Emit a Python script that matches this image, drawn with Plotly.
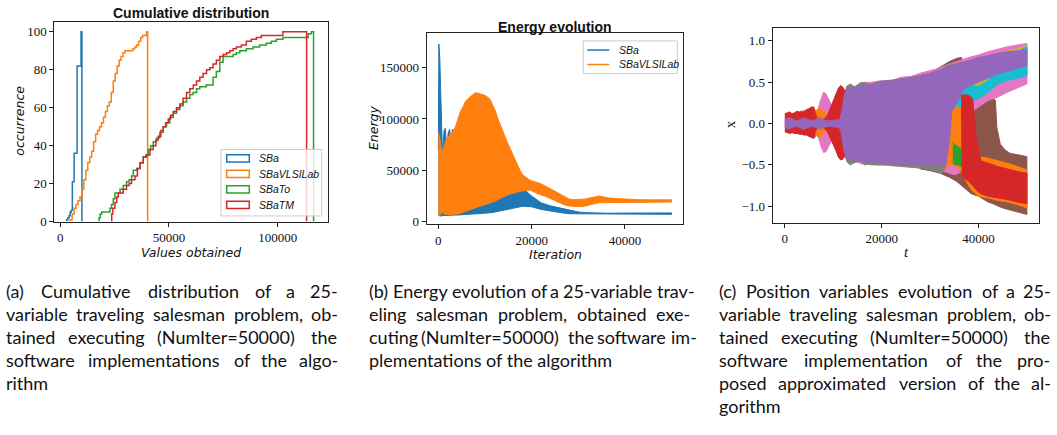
import plotly.graph_objects as go

W, H = 1057, 435

C_BLUE, C_ORANGE, C_GREEN, C_RED = "#1f77b4", "#ff7f0e", "#2ca02c", "#d62728"
C_PURPLE, C_BROWN, C_PINK, C_GRAY = "#9467bd", "#8c564b", "#e377c2", "#7f7f7f"
C_OLIVE, C_CYAN = "#bcbd22", "#17becf"

# ---------------- (a) cumulative distribution (step histograms) ----------------
sba_edges = [3000, 3500, 4100, 4600, 5100, 5600, 6400, 7800, 9600, 10000]
sba_cum = [1, 2, 3, 5, 6, 21, 36, 82, 100]

vlsi_edges = [4600, 5500, 6400, 7300, 8200, 9100, 10000, 10900, 11800, 12700,
              13600, 14500, 15400, 16300, 17200, 18100, 19000, 19900, 20800, 21700,
              22600, 23500, 24400, 25300, 26200, 27100, 28000, 28900, 29800, 30700,
              31600, 32500, 33400, 34300, 35200, 36100, 37000, 37900, 38800, 39700,
              40200]
vlsi_cum = [1, 4, 7, 9, 11, 13, 17, 22, 27, 31,
            34, 37, 42, 46, 48, 50, 52, 55, 58, 61,
            63, 68, 74, 78, 82, 85, 87, 89, 90, 90,
            90, 90, 91, 92, 93, 95, 97, 98, 98, 100]

to_edges = [17900, 18400, 19100, 22900, 23600, 24400, 25200, 26000, 27500, 29000,
            30500, 31700, 32800, 33600, 35200, 36700, 38200, 39400, 40500, 41600,
            42800, 44300, 45800, 47400, 48900, 50400, 52000, 53500, 55000, 56500,
            58100, 59600, 61100, 62700, 64200, 67200, 70300, 71800, 73400, 74900,
            77200, 79500, 81000, 82600, 85600, 88700, 91700, 94800, 97100, 99400,
            102400, 105000, 114000, 115500, 116500]
to_cum = [2, 4, 5, 7, 9, 12, 15, 15, 17, 19,
          21, 22, 24, 27, 28, 31, 34, 35, 38, 40,
          42, 44, 47, 50, 52, 55, 57, 59, 61, 63,
          65, 67, 68, 70, 71, 72, 76, 79, 84, 87,
          87, 88, 89, 90, 91, 92, 93, 94, 95, 96,
          97, 97, 99, 100]

tm_edges = [23700, 24200, 25200, 26000, 26700, 29000, 30500, 31700, 32800, 34400,
            35500, 36700, 38200, 39800, 41300, 42800, 44000, 45100, 46300, 47400,
            48500, 49700, 50800, 52000, 53500, 55000, 56500, 58100, 59600, 61200,
            62700, 64200, 65700, 67300, 68800, 70300, 71800, 73400, 74900, 76500,
            78000, 79500, 81000, 83300, 85600, 87900, 90200, 92500, 94800, 98600,
            102400, 113300]
tm_cum = [4, 7, 10, 13, 15, 17, 19, 20, 22, 24,
          28, 31, 34, 35, 38, 40, 43, 45, 48, 50,
          52, 54, 56, 58, 60, 62, 65, 68, 70, 72,
          74, 76, 78, 80, 81, 83, 85, 87, 88, 89,
          90, 91, 92, 93, 95, 96, 97, 98, 98, 98,
          100]

cdf_names = ["SBa", "SBaVLSILab", "SBaTo", "SBaTM"]
cdf_tickvals_x = [0, 50000, 100000]
cdf_tickvals_y = [0, 20, 40, 60, 80, 100]

# ---------------- (b) energy evolution (envelopes of the oscillating energy) ----------------
en_sba_it = [0, 100, 300, 600, 900, 1200, 1500, 1800, 2100, 2400, 2700, 3000, 3300, 3600,
             4000, 5000, 6000, 8000, 10000, 11500, 13200, 14000, 16000, 17000, 17500, 18000,
             18500, 19000, 20000, 22000, 24000, 26000, 28000, 30000, 32000, 34000, 36000,
             40000, 45000, 50000]
en_sba_hi = [70000, 173000, 160000, 110000, 62000, 88000, 91000, 67000, 86000, 90000, 78000,
             90000, 83000, 88000, 40000, 12000, 13000, 15000, 18000, 19500, 23000, 25000,
             28000, 29500, 30000, 34000, 31000, 29000, 25000, 18500, 15500, 13500, 11000,
             9500, 8800, 8400, 8300, 8400, 8500, 8600]
en_sba_lo = [6000, 6000, 5500, 5500, 6000, 6000, 6500, 6500, 6500, 6500, 6500, 6500, 6500,
             6500, 6500, 7000, 7200, 7500, 8300, 8900, 10000, 11000, 13000, 14000, 14500,
             15000, 15000, 15000, 14500, 12000, 10500, 9000, 7800, 7400, 7200, 7200, 7200,
             7200, 7200, 7200]

en_vlsi_it = [0, 200, 500, 850, 1200, 1550, 2000, 2600, 3100, 3700, 4200, 4700, 5300, 5800,
              6400, 6900, 7400, 7900, 8500, 9000, 9500, 10000, 10600, 11100, 11600, 12200,
              12700, 13200, 13800, 14300, 14800, 15400, 15900, 16400, 17000, 17500, 18000,
              18500, 19000, 19600, 20500, 21700, 22800, 23800, 25000, 26000, 27000, 28100,
              29000, 30200, 31300, 32300, 33400, 34500, 35500, 36600, 38500, 40800, 43000,
              45100, 47500, 50000]
en_vlsi_hi = [87000, 84000, 75000, 68000, 72000, 79000, 82000, 85000, 88000, 93000, 100000,
              107000, 112000, 117000, 120000, 122000, 124000, 125500, 125000, 124500, 123500,
              123000, 121000, 119000, 114000, 108000, 101000, 95000, 88000, 82000, 77000,
              71000, 66000, 60000, 55000, 50000, 46000, 44000, 42000, 40500, 39000, 37500,
              35000, 32500, 29000, 26500, 24000, 22000, 21500, 21500, 22000, 23000, 24000,
              25000, 24000, 23000, 22500, 21800, 21500, 21300, 21300, 21300]
en_vlsi_lo = [6000, 6500, 7000, 10000, 7500, 7000, 7000, 7000, 7000, 7500, 7500, 8000, 9000,
              10000, 11000, 12000, 12800, 13700, 14500, 15200, 16000, 16800, 17500, 18000,
              19000, 20000, 21500, 22500, 23500, 25000, 26000, 27000, 27500, 28000, 29000,
              29500, 30000, 30500, 30500, 31000, 29000, 26500, 25000, 23000, 21000, 18500,
              16500, 15300, 14800, 14600, 15000, 16000, 17500, 18500, 18800, 19000, 19100,
              19100, 19200, 19200, 19200, 19200]

en_names = ["SBa", "SBaVLSILab"]
en_tickvals_x = [0, 20000, 40000]
en_tickvals_y = [0, 50000, 100000, 150000]

# ---------------- (c) position variables (envelopes, drawn in index order) ----------------
# variable 15 (brown)
x15_t = [28000, 30000, 32000, 34000, 35500, 36500, 37500, 38500, 40000, 41000, 42000, 43000,
         43500, 43800, 44500, 45500, 46500, 48000, 50000]
x15_hi = [0.58, 0.62, 0.68, 0.75, 0.79, 0.8, 0.6, 0.35, 0.33, 0.32, 0.31, 0.3, 0.28, -0.05,
          -0.25, -0.32, -0.36, -0.38, -0.4]
x15_lo = [-0.55, -0.57, -0.6, -0.65, -0.7, -0.75, -0.8, -0.85, -0.88, -0.92, -0.95, -0.97,
          -0.98, -0.99, -1.01, -1.03, -1.05, -1.07, -1.1]
# variable 16 (pink)
x16_t = [6500, 7000, 7500, 8000, 8500, 9000, 9500, 10000, 10500, 11000, 12000, 13000, 14000,
         15000, 16000, 18000, 20000, 22000, 24000, 26000, 28000, 30000, 32000, 33000, 34000,
         35000, 36000, 36600, 38000, 40000, 42000, 44000, 46000, 48000, 50000]
x16_hi = [0.05, 0.2, 0.3, 0.38, 0.36, 0.3, 0.24, 0.18, 0.12, 0.06, 0.3, 0.42, 0.44, 0.47, 0.49,
          0.5, 0.52, 0.52, 0.56, 0.57, 0.61, 0.64, 0.67, 0.7, 0.72, 0.74, 0.76, 0.78, 0.8,
          0.83, 0.87, 0.9, 0.93, 0.95, 0.97]
x16_lo = [-0.05, -0.18, -0.28, -0.35, -0.34, -0.28, -0.22, -0.17, -0.11, -0.05, -0.3, -0.42,
          -0.44, -0.47, -0.49, -0.5, -0.5, -0.51, -0.52, -0.53, -0.54, -0.55, -0.57, -0.58,
          -0.6, -0.62, -0.6, 0.1, 0.12, 0.2, 0.28, 0.32, 0.38, 0.43, 0.48]
# variable 17 (gray)
x17_t = [12000, 12800, 13500, 14500, 15500, 16500, 17500, 19000, 21000, 23000, 25000, 27000,
         29000, 31000, 32500, 33500, 35000, 36500]
x17_hi = [0.3, 0.45, 0.48, 0.44, 0.49, 0.5, 0.47, 0.5, 0.52, 0.53, 0.55, 0.57, 0.59, 0.63,
          0.66, 0.7, 0.72, 0.74]
x17_lo = [-0.3, -0.46, -0.5, -0.47, -0.45, -0.5, -0.49, -0.5, -0.5, -0.51, -0.52, -0.53,
          -0.55, -0.57, -0.6, -0.5, -0.3, -0.2]
# variable 18 (olive)
x18_t = [12500, 20000, 30000, 36000, 38500, 40000, 42000, 43500, 44500, 46000, 48000, 50000]
x18_hi = [0.3, 0.4, 0.5, 0.6, 0.5, 0.56, 0.62, 0.7, 0.84, 0.88, 0.9, 0.95]
x18_lo = [-0.3, -0.4, -0.4, -0.2, 0.32, 0.36, 0.42, 0.48, 0.52, 0.55, 0.58, 0.6]
# variable 19 (cyan)
x19_t = [5000, 5600, 6200, 6800, 7400, 11500, 12500, 20000, 30000, 34000, 36500, 37000, 38000,
         40000, 42000, 44000, 46000, 48000, 50000]
x19_hi = [0.05, 0.14, 0.17, 0.12, 0.03, 0.03, 0.35, 0.45, 0.55, 0.6, 0.45, 0.45, 0.46, 0.45,
          0.52, 0.75, 0.8, 0.86, 0.93]
x19_lo = [-0.05, -0.12, -0.17, -0.13, -0.03, -0.03, -0.35, -0.45, -0.45, 0.2, 0.2, 0.22, 0.26,
          0.3, 0.38, 0.48, 0.52, 0.55, 0.58]
# variable 21 (orange)
x21_t = [5500, 6000, 6500, 7000, 7500, 8000, 8500, 9000, 11500, 12500, 20000, 30000, 32500,
         33500, 34200, 35000, 36000, 36600, 37500, 38500, 40000, 42000, 44000, 46000, 48000,
         50000]
x21_hi = [0.0, 0.1, 0.16, 0.18, 0.17, 0.15, 0.1, 0.03, 0.03, 0.35, 0.4, 0.5, 0.55, 0.4, 0.2,
          0.2, 0.2, 0.18, -0.1, -0.3, -0.4, -0.42, -0.45, -0.48, -0.52, -0.56]
x21_lo = [0.0, -0.08, -0.14, -0.17, -0.16, -0.12, -0.06, -0.03, -0.03, -0.35, -0.4, -0.45,
          -0.5, -0.52, -0.5, -0.5, -0.55, -0.6, -0.7, -0.8, -0.88, -0.9, -0.93, -0.95, -0.98,
          -1.02]
# variable 22 (green)
x22_t = [34700, 35000, 35800, 36300, 36600]
x22_hi = [-0.22, -0.25, -0.28, -0.3, -0.32]
x22_lo = [-0.45, -0.5, -0.5, -0.52, -0.52]
# variable 23 (red)
x23_t = [0, 500, 1000, 1500, 2000, 2500, 3000, 3500, 4000, 4500, 5000, 5500, 6000, 6300, 6800,
         8000, 8800, 9500, 10000, 10500, 11000, 11500, 12000, 12500, 20000, 30000, 33000,
         33300, 36000, 36500, 36600, 37000, 38000, 38800, 39500, 40500, 42000, 44000, 46000,
         48000, 50000]
x23_hi = [0.12, 0.13, 0.14, 0.12, 0.13, 0.15, 0.14, 0.15, 0.15, 0.17, 0.18, 0.2, 0.2, 0.12,
          0.05, 0.05, 0.1, 0.2, 0.27, 0.34, 0.42, 0.46, 0.44, 0.38, 0.4, 0.45, 0.45, 0.45,
          0.45, 0.34, 0.34, 0.35, 0.34, 0.3, -0.15, -0.45, -0.48, -0.52, -0.55, -0.58, -0.6]
x23_lo = [-0.1, -0.11, -0.12, -0.11, -0.12, -0.12, -0.13, -0.13, -0.14, -0.14, -0.15, -0.17,
          -0.18, -0.1, -0.05, -0.05, -0.1, -0.18, -0.25, -0.32, -0.4, -0.44, -0.43, -0.38,
          -0.4, -0.45, -0.45, 0.35, 0.4, 0.3, -0.62, -0.66, -0.7, -0.75, -0.8, -0.85, -0.88,
          -0.9, -0.92, -0.95, -0.97]
# variable 24 (purple, drawn last)
x24_t = [0, 400, 800, 1300, 1900, 2500, 3200, 3900, 4600, 5300, 5800, 6400, 7200, 8000, 8600,
         9500, 10500, 11300, 11800, 12300, 12800, 13500, 14500, 15500, 16500, 17500, 18500,
         19500, 20500, 21500, 22500, 23500, 24500, 25500, 26500, 27500, 28500, 29500, 30500,
         31500, 32500, 33300, 34000, 34500, 35000, 36000, 36700, 38000, 40000, 42000, 44000,
         46000, 48000, 50000]
x24_hi = [0.05, 0.06, 0.07, 0.06, 0.04, 0.03, 0.05, 0.07, 0.05, 0.035, 0.03, 0.05, 0.07, 0.05,
          0.035, 0.035, 0.04, 0.05, 0.15, 0.35, 0.42, 0.43, 0.44, 0.45, 0.46, 0.47, 0.48, 0.49,
          0.5, 0.51, 0.52, 0.53, 0.54, 0.55, 0.56, 0.57, 0.59, 0.6, 0.62, 0.63, 0.65, 0.67,
          0.69, 0.7, 0.71, 0.73, 0.74, 0.76, 0.8, 0.82, 0.85, 0.87, 0.88, 0.9]
x24_lo = [-0.05, -0.06, -0.07, -0.06, -0.04, -0.03, -0.05, -0.07, -0.05, -0.035, -0.03, -0.05,
          -0.07, -0.05, -0.035, -0.035, -0.04, -0.05, -0.15, -0.35, -0.42, -0.43, -0.44,
          -0.45, -0.45, -0.46, -0.46, -0.47, -0.47, -0.47, -0.48, -0.48, -0.48, -0.48, -0.49,
          -0.49, -0.49, -0.5, -0.5, -0.5, -0.5, -0.5, -0.2, 0.15, 0.2, 0.3, 0.4, 0.45, 0.5,
          0.55, 0.6, 0.63, 0.67, 0.7]

pos_tickvals_x = [0, 20000, 40000]
pos_tickvals_y = [1.0, 0.5, 0.0, -0.5, -1.0]
pos_ticktext_y = ["1.0", "0.5", "0.0", "\u22120.5", "\u22121.0"]

captions = {
    "a": ["(a) Cumulative distribution of a 25-",
          "variable traveling salesman problem, ob-",
          "tained executing (NumIter=50000) the",
          "software implementations of the algo-",
          "rithm"],
    "b": ["(b) Energy evolution of a 25-variable trav-",
          "eling salesman problem, obtained exe-",
          "cuting (NumIter=50000) the software im-",
          "plementations of the algorithm"],
    "c": ["(c) Position variables evolution of a 25-",
          "variable traveling salesman problem, ob-",
          "tained executing (NumIter=50000) the",
          "software implementation of the pro-",
          "posed approximated version of the al-",
          "gorithm"],
}


def fx(px):
    return px / W


def fy(py):
    return 1 - py / H


def step_outline(edges, heights):
    xs, ys = [edges[0]], [0]
    for i, h in enumerate(heights):
        xs += [edges[i], edges[i + 1]]
        ys += [h, h]
    xs.append(edges[-1])
    ys.append(0)
    return xs, ys


def band(t, hi, lo, color, xa, ya, lw=1.0):
    return go.Scatter(x=list(t) + list(t)[::-1], y=list(hi) + list(lo)[::-1],
                      mode="lines", fill="toself", fillcolor=color,
                      line=dict(color=color, width=lw),
                      xaxis=xa, yaxis=ya, showlegend=False, hoverinfo="skip")


fig = go.Figure()

# (a)
for edges, cum, col in [(sba_edges, sba_cum, C_BLUE), (vlsi_edges, vlsi_cum, C_ORANGE),
                        (to_edges, to_cum, C_GREEN), (tm_edges, tm_cum, C_RED)]:
    xs, ys = step_outline(edges, cum)
    fig.add_trace(go.Scatter(x=xs, y=ys, mode="lines", line=dict(color=col, width=1.5),
                             xaxis="x", yaxis="y", showlegend=False, hoverinfo="skip"))

# (b)
fig.add_trace(band(en_sba_it, en_sba_hi, en_sba_lo, C_BLUE, "x2", "y2"))
fig.add_trace(band(en_vlsi_it, en_vlsi_hi, en_vlsi_lo, C_ORANGE, "x2", "y2"))

# (c) drawn in variable order so that later variables sit on top
for t, hi, lo, col in [(x15_t, x15_hi, x15_lo, C_BROWN), (x16_t, x16_hi, x16_lo, C_PINK),
                       (x17_t, x17_hi, x17_lo, C_GRAY), (x18_t, x18_hi, x18_lo, C_OLIVE),
                       (x19_t, x19_hi, x19_lo, C_CYAN), (x21_t, x21_hi, x21_lo, C_ORANGE),
                       (x22_t, x22_hi, x22_lo, C_GREEN), (x23_t, x23_hi, x23_lo, C_RED),
                       (x24_t, x24_hi, x24_lo, C_PURPLE)]:
    fig.add_trace(band(t, hi, lo, col, "x3", "y3"))

TICK_FONT = dict(family="Liberation Serif, Times New Roman, serif", size=13, color="#111")
axis_common = dict(showgrid=False, zeroline=False, showline=True, mirror=True,
                   linecolor="#222", linewidth=1, ticks="outside", ticklen=4,
                   tickwidth=1, tickcolor="#222", tickfont=TICK_FONT, tickmode="array")

fig.update_layout(
    width=W, height=H, margin=dict(l=0, r=0, t=0, b=0),
    paper_bgcolor="white", plot_bgcolor="white", showlegend=False,
    xaxis=dict(domain=[fx(54.3), fx(327.7)], range=[-2700, 123000], anchor="y",
               tickvals=cdf_tickvals_x, ticktext=[str(v) for v in cdf_tickvals_x], **axis_common),
    yaxis=dict(domain=[fy(225.7), fy(22.7)], range=[0, 105], anchor="x",
               tickvals=cdf_tickvals_y, ticktext=[str(v) for v in cdf_tickvals_y], **axis_common),
    xaxis2=dict(domain=[fx(426.7), fx(683.3)], range=[-2500, 52500], anchor="y2",
                tickvals=en_tickvals_x, ticktext=[str(v) for v in en_tickvals_x], **axis_common),
    yaxis2=dict(domain=[fy(228.3), fy(33.3)], range=[-2300, 184000], anchor="x2",
                tickvals=en_tickvals_y, ticktext=[str(v) for v in en_tickvals_y], **axis_common),
    xaxis3=dict(domain=[fx(772.7), fx(1039)], range=[-2500, 52500], anchor="y3",
                tickvals=pos_tickvals_x, ticktext=[str(v) for v in pos_tickvals_x], **axis_common),
    yaxis3=dict(domain=[fy(226.7), fy(28.3)], range=[-1.198, 1.159], anchor="x3",
                tickvals=pos_tickvals_y, ticktext=pos_ticktext_y, **axis_common),
)

ann = []
shapes = []
TITLE_FONT = dict(family="Liberation Sans, Arial, sans-serif", size=14, color="#111")
LABEL_FONT = dict(family="DejaVu Sans", size=12.5, color="#111", style="italic")


def text(x, y, s, font, xanchor="center", yanchor="middle", angle=0):
    ann.append(dict(x=fx(x), y=fy(y), xref="paper", yref="paper", text=s, showarrow=False,
                    font=font, xanchor=xanchor, yanchor=yanchor, textangle=angle,
                    borderpad=0))


# titles and axis labels
text(191, 13.5, "<b>Cumulative distribution</b>", TITLE_FONT)
text(555, 27.5, "<b>Energy evolution</b>", TITLE_FONT)
text(191, 257, "Values obtained", LABEL_FONT)
text(555, 259.5, "Iteration", LABEL_FONT)
text(906, 257, "t", dict(family="Liberation Serif", size=15, color="#111", style="italic"))
text(19.5, 123.5, "occurrence", LABEL_FONT, angle=-90)
text(373.5, 130, "Energy", LABEL_FONT, angle=-90)
text(730, 126.5, "x", dict(family="Liberation Serif", size=15, color="#111"), angle=-90)

# legend of (a): frame, outlined patches, labels
LEG_FONT = dict(family="Liberation Sans, Arial, sans-serif", size=10.5, color="#111",
                style="italic")
shapes.append(dict(type="rect", xref="paper", yref="paper", x0=fx(221), x1=fx(321.7),
                   y0=fy(220), y1=fy(152.3), line=dict(color="#cccccc", width=1),
                   fillcolor="rgba(255,255,255,0.8)", layer="above"))
for i, (name, col) in enumerate(zip(cdf_names, [C_BLUE, C_ORANGE, C_GREEN, C_RED])):
    yc = 161.3 + i * 15.8
    shapes.append(dict(type="rect", xref="paper", yref="paper", x0=fx(226.7), x1=fx(249.3),
                       y0=fy(yc + 3.7), y1=fy(yc - 3.7), line=dict(color=col, width=1.5),
                       fillcolor="rgba(0,0,0,0)", layer="above"))
    text(258, yc, name, LEG_FONT, xanchor="left")

# legend of (b)
shapes.append(dict(type="rect", xref="paper", yref="paper", x0=fx(583.3), x1=fx(677.3),
                   y0=fy(75), y1=fy(41.7), line=dict(color="#cccccc", width=1),
                   fillcolor="rgba(255,255,255,0.8)", layer="above"))
for i, (name, col) in enumerate(zip(en_names, [C_BLUE, C_ORANGE])):
    yc = 51 + i * 14.7
    shapes.append(dict(type="line", xref="paper", yref="paper", x0=fx(587.3), x1=fx(609.3),
                       y0=fy(yc), y1=fy(yc), line=dict(color=col, width=1.5), layer="above"))
    text(618, yc, name, LEG_FONT, xanchor="left")

# captions: justified paragraphs, one annotation per word
CAP_SIZE = 18
CAP_FONT = dict(family="Lato", size=CAP_SIZE, color="#111")
CHAR_EM = {" ": 0.193, "a": 0.49, "b": 0.55, "c": 0.45, "d": 0.55, "e": 0.52, "f": 0.32,
           "g": 0.50, "h": 0.55, "i": 0.24, "j": 0.24, "k": 0.50, "l": 0.24, "m": 0.82,
           "n": 0.55, "o": 0.55, "p": 0.55, "q": 0.55, "r": 0.36, "s": 0.42, "t": 0.35,
           "u": 0.55, "v": 0.50, "w": 0.76, "x": 0.49, "y": 0.50, "z": 0.45, "(": 0.29,
           ")": 0.29, "-": 0.33, "=": 0.58, ",": 0.20, ".": 0.20, "N": 0.72, "I": 0.27,
           "P": 0.58, "E": 0.55, "C": 0.66}


def word_width(s):
    em = 0.0
    for ch in s:
        if ch in CHAR_EM:
            em += CHAR_EM[ch]
        elif ch.isdigit():
            em += 0.58
        elif ch.isupper():
            em += 0.65
        else:
            em += 0.5
    return 1.04 * CAP_SIZE * em


cap_span = {"a": (5, 337), "b": (368, 690), "c": (718, 1050)}
for key, lines in captions.items():
    x0, x1 = cap_span[key]
    for j, line in enumerate(lines):
        yc = 296 + j * 23.6
        words = line.split(" ")
        if j == len(lines) - 1 or len(words) == 1:
            text(x0, yc, line, CAP_FONT, xanchor="left")
            continue
        widths = [word_width(w) for w in words]
        gap = (x1 - x0 - sum(widths)) / (len(words) - 1)
        gap = max(gap, 0.17 * CAP_SIZE)
        x = x0
        for w, wd in zip(words, widths):
            text(x, yc, w, CAP_FONT, xanchor="left")
            x += wd + gap

fig.update_layout(annotations=ann, shapes=shapes)
fig.write_html("out.html")
